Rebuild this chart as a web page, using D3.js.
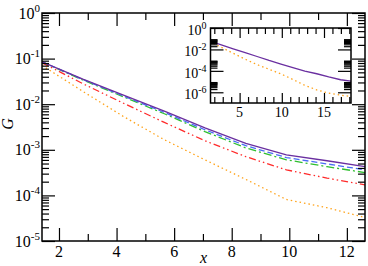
<!DOCTYPE html>
<html>
<head>
<meta charset="utf-8">
<script src="https://cdn.jsdelivr.net/npm/d3@7"></script>
<style>
  body { margin: 0; background: #fff; }
  svg { display: block; }
</style>
</head>
<body>
<div id="chart"></div>
<script>
// main plot data: G(x) for five series
const xs = [1.41, 2.83, 4.24, 5.66, 7.07, 8.49, 9.9, 11.31, 12.73];
const gPurple = [0.0851, 0.0355, 0.0158, 0.00708, 0.00302, 0.00138, 0.000776, 0.000575, 0.000417];
const gBlue   = [0.0851, 0.0347, 0.0151, 0.00661, 0.00275, 0.00123, 0.000676, 0.000490, 0.000355];
const gGreen  = [0.0851, 0.0339, 0.0145, 0.00617, 0.00251, 0.00110, 0.000603, 0.000427, 0.000309];
const gRed    = [0.0813, 0.0282, 0.0105, 0.00398, 0.00158, 0.000708, 0.000363, 0.000240, 0.000166];
const gOrange = [0.0708, 0.0191, 0.00537, 0.00166, 0.000603, 0.000224, 0.0000813, 0.0000537, 0.0000316];

// inset data
const insetXs = [1.41, 2.83, 4.24, 5.66, 7.07, 8.49, 9.9, 11.31, 12.73, 14.14, 15.56, 16.97, 18.38];
const insetPurple = [0.0631, 0.0269, 0.0115, 0.00501, 0.00219, 0.000933, 0.000427, 0.000200, 0.0000955, 0.0000537, 0.0000269, 0.0000148, 0.0000105];
const insetOrange = [0.0562, 0.0158, 0.00437, 0.00123, 0.000380, 0.000141, 0.0000513, 0.0000158, 0.00000447, 0.00000166, 0.000000832, 0.000000537, 0.000000398];

// ticks
const xMajor = [2, 4, 6, 8, 10, 12];
const xMinor = [3, 5, 7, 9, 11];
const yExps = [0, -1, -2, -3, -4, -5];
const insetXMajor = [5, 10, 15];
const insetXMinor = d3.range(2, 19);
const insetYExps = [0, -2, -4, -6];

const W = 368, H = 266;
const m = {left: 42, right: 365, top: 13, bottom: 241};
const ins = {left: 210.5, right: 351, top: 28, bottom: 103};
const FONT = 'Liberation Serif';

const svg = d3.select('#chart').append('svg')
    .attr('width', W).attr('height', H)
    .attr('viewBox', `0 0 ${W} ${H}`)
    .attr('font-family', FONT);

const x = d3.scaleLinear().domain([1.41, 12.63]).range([m.left, m.right]);
const y = d3.scaleLog().domain([1e-5, 1]).range([m.bottom, m.top]);

const xi = d3.scaleLinear().domain([1.55, 18.2]).range([ins.left, ins.right]);
const yi = d3.scaleLog().domain([1e-7, 1]).range([ins.bottom, ins.top]);

const defs = svg.append('defs');
defs.append('clipPath').attr('id', 'clipMain').append('rect')
    .attr('x', m.left).attr('y', m.top)
    .attr('width', m.right - m.left).attr('height', m.bottom - m.top);
defs.append('clipPath').attr('id', 'clipInset').append('rect')
    .attr('x', ins.left).attr('y', ins.top)
    .attr('width', ins.right - ins.left).attr('height', ins.bottom - ins.top);

// minor log ticks: 2..9 times each power
function logMinor(exps) {
  const out = [];
  exps.forEach(e => { for (let k = 2; k <= 9; k++) out.push(k * Math.pow(10, e)); });
  return out;
}

// draw inward ticks on all four sides of a frame
function drawTicks(g, xs_, ys_, box, xMaj, xMin, yMaj, yMin, lenMaj, lenMin, lenMajY, lenMinY) {
  const fmt = () => '';
  const sets = [
    [d3.axisBottom(xs_).tickValues(xMaj).tickSize(-lenMaj), `translate(0,${box.bottom})`],
    [d3.axisBottom(xs_).tickValues(xMin).tickSize(-lenMin), `translate(0,${box.bottom})`],
    [d3.axisTop(xs_).tickValues(xMaj).tickSize(-lenMaj), `translate(0,${box.top})`],
    [d3.axisTop(xs_).tickValues(xMin).tickSize(-lenMin), `translate(0,${box.top})`],
    [d3.axisLeft(ys_).tickValues(yMaj).tickSize(-lenMajY), `translate(${box.left},0)`],
    [d3.axisLeft(ys_).tickValues(yMin).tickSize(-lenMinY), `translate(${box.left},0)`],
    [d3.axisRight(ys_).tickValues(yMaj).tickSize(-lenMajY), `translate(${box.right},0)`],
    [d3.axisRight(ys_).tickValues(yMin).tickSize(-lenMinY), `translate(${box.right},0)`],
  ];
  sets.forEach(([ax, tr]) => {
    const a = g.append('g').attr('transform', tr).call(ax.tickFormat(fmt));
    a.select('.domain').remove();
    a.selectAll('line').attr('stroke', '#000').attr('stroke-width', 1.2);
  });
}

// ---- main plot ----
const series = [
  {vals: gOrange, color: '#ffa31a', dash: '1.5,3'},
  {vals: gRed,    color: '#ff2a2a', dash: '7,3,1.5,3,1.5,3'},
  {vals: gGreen,  color: '#2fbf2f', dash: '8,3,2,3'},
  {vals: gBlue,   color: '#4a6cf5', dash: '6,3'},
  {vals: gPurple, color: '#6a2fa0', dash: null},
];

const line = d3.line().x(d => x(d[0])).y(d => y(d[1]));
const linesG = svg.append('g').attr('clip-path', 'url(#clipMain)');
series.forEach(s => {
  linesG.append('path')
    .datum(xs.map((v, i) => [v, s.vals[i]]))
    .attr('fill', 'none')
    .attr('stroke', s.color)
    .attr('stroke-width', 1.3)
    .attr('stroke-dasharray', s.dash)
    .attr('d', line);
});

const mainAx = svg.append('g');
drawTicks(mainAx, x, y, m,
  xMajor, xMinor,
  yExps.map(e => Math.pow(10, e)), logMinor([-5, -4, -3, -2, -1]),
  13, 7, 13, 7);

svg.append('rect')
  .attr('x', m.left).attr('y', m.top)
  .attr('width', m.right - m.left).attr('height', m.bottom - m.top)
  .attr('fill', 'none').attr('stroke', '#000').attr('stroke-width', 1.5);

// x tick labels
svg.append('g').selectAll('text').data(xMajor).join('text')
  .attr('x', d => x(d)).attr('y', m.bottom + 16)
  .attr('text-anchor', 'middle').attr('font-size', 16)
  .attr('font-family', FONT)
  .text(d => d);

// y tick labels 10^e
const yl = svg.append('g').selectAll('text').data(yExps).join('text')
  .attr('x', m.left - 2).attr('y', d => y(Math.pow(10, d)) + 5.5)
  .attr('text-anchor', 'end').attr('font-size', 16)
  .attr('font-family', FONT);
yl.append('tspan').text('10');
yl.append('tspan').attr('dy', -7).attr('font-size', 11).text(d => d === 0 ? '0' : '-' + (-d));

// axis titles
svg.append('text')
  .attr('x', (m.left + m.right) / 2).attr('y', 263)
  .attr('text-anchor', 'middle').attr('font-size', 16).attr('font-style', 'italic')
  .attr('font-family', FONT)
  .text('x');
svg.append('text')
  .attr('transform', `translate(13,${(m.top + m.bottom) / 2 - 3}) rotate(-90)`)
  .attr('text-anchor', 'middle').attr('font-size', 16).attr('font-style', 'italic')
  .attr('font-family', FONT)
  .text('G');

// ---- inset ----
svg.append('rect')
  .attr('x', ins.left).attr('y', ins.top)
  .attr('width', ins.right - ins.left).attr('height', ins.bottom - ins.top)
  .attr('fill', '#fff');

const lineI = d3.line().x(d => xi(d[0])).y(d => yi(d[1]));
const insetG = svg.append('g').attr('clip-path', 'url(#clipInset)');
[
  {vals: insetOrange, color: '#ffa31a', dash: '1.5,3'},
  {vals: insetPurple, color: '#6a2fa0', dash: null},
].forEach(s => {
  insetG.append('path')
    .datum(insetXs.map((v, i) => [v, s.vals[i]]))
    .attr('fill', 'none')
    .attr('stroke', s.color)
    .attr('stroke-width', 1.3)
    .attr('stroke-dasharray', s.dash)
    .attr('d', lineI);
});

drawTicks(svg.append('g'), xi, yi, ins,
  insetXMajor, insetXMinor.filter(v => insetXMajor.indexOf(v) < 0),
  insetYExps.map(e => Math.pow(10, e)), logMinor([-2, -4, -6]),
  10, 6, 13, 7);

svg.append('rect')
  .attr('x', ins.left).attr('y', ins.top)
  .attr('width', ins.right - ins.left).attr('height', ins.bottom - ins.top)
  .attr('fill', 'none').attr('stroke', '#000').attr('stroke-width', 1.5);

svg.append('g').selectAll('text').data(insetXMajor).join('text')
  .attr('x', d => xi(d)).attr('y', ins.bottom + 14)
  .attr('text-anchor', 'middle').attr('font-size', 14)
  .attr('font-family', FONT)
  .text(d => d);

const yli = svg.append('g').selectAll('text').data(insetYExps).join('text')
  .attr('x', ins.left - 4).attr('y', d => yi(Math.pow(10, d)) + 7)
  .attr('text-anchor', 'end').attr('font-size', 14)
  .attr('font-family', FONT);
yli.append('tspan').text('10');
yli.append('tspan').attr('dy', -6).attr('font-size', 10).text(d => d === 0 ? '0' : '-' + (-d));
</script>
</body>
</html>
